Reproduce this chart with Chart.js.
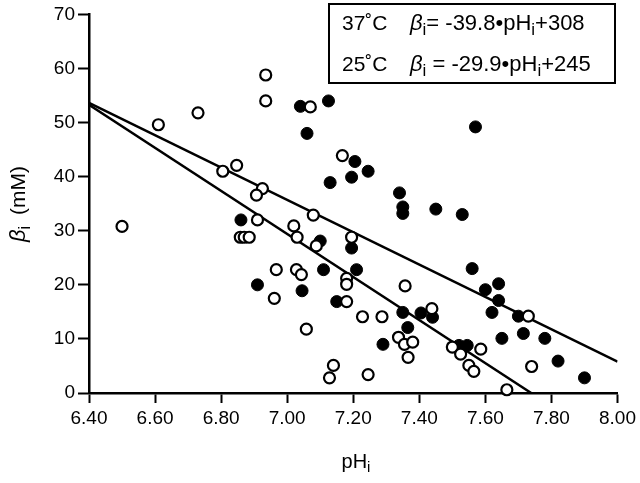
<!DOCTYPE html>
<html lang="en">
<head>
    <meta charset="UTF-8">
    <title>Buffering capacity vs pHi</title>
    <script src="https://cdn.jsdelivr.net/npm/chart.js"></script>
    <style>
        html, body { margin: 0; padding: 0; background: #fff; }
        canvas { display: block; }
    </style>
</head>
<body>
    <canvas id="betaChart" width="640" height="483"></canvas>

    <script>
        // 37 C (filled circles)
        const ph37 = [7.04, 7.125, 7.06, 7.205, 7.245, 7.195, 7.13, 7.34, 7.35, 7.35, 7.45, 7.53, 7.57,
            7.56, 7.60, 7.64, 7.64, 7.62, 7.70, 7.65, 7.715, 7.78, 7.82, 7.90, 7.195, 7.21, 7.35,
            7.405, 7.44, 7.365, 7.29, 7.52, 7.545, 6.86, 7.10, 7.11, 6.91, 7.045, 7.15];
        const beta37 = [53.0, 54.0, 48.0, 42.8, 41.0, 39.9, 38.9, 37.0, 34.4, 33.2, 34.0, 33.0, 49.2,
            23.0, 19.1, 20.2, 17.1, 14.9, 14.2, 10.1, 11.0, 10.1, 5.9, 2.8, 26.8, 22.8, 14.9,
            14.8, 14.0, 12.1, 9.0, 8.8, 8.8, 32.0, 28.1, 22.8, 20.0, 18.9, 16.9];

        // 25 C (open circles)
        const ph25 = [6.50, 6.61, 6.73, 6.935, 6.935, 6.805, 6.847, 6.925, 6.907, 6.91, 7.07, 7.167,
            6.858, 6.87, 6.885, 7.02, 7.03, 7.088, 7.079, 7.195, 6.967, 7.028, 7.043, 6.961, 7.18,
            7.18, 7.18, 7.228, 7.058, 7.14, 7.128, 7.245, 7.287, 7.357, 7.438, 7.337, 7.355, 7.38,
            7.366, 7.50, 7.525, 7.586, 7.55, 7.565, 7.73, 7.74, 7.665];
        const beta25 = [30.8, 49.6, 51.8, 58.8, 54.0, 41.0, 42.1, 37.8, 36.6, 32.0, 52.9, 43.9,
            28.8, 28.8, 28.8, 30.9, 28.8, 27.2, 32.9, 28.8, 22.8, 22.8, 21.9, 17.5, 21.2,
            20.1, 16.9, 14.1, 11.8, 5.1, 2.8, 3.4, 14.1, 19.8, 15.6, 10.3, 9.0, 9.4,
            6.6, 8.5, 7.2, 8.1, 5.1, 4.0, 14.2, 4.9, 0.6];

        // regression lines from the legend
        const fitLabels = ['37˚C', '25˚C'];
        const fitSlope = [-39.8, -29.9];
        const fitIntercept = [308, 245];
        const fitText = ['= -39.8', ' = -29.9'];
        const fitTail = ['+308', '+245'];

        const xMin = 6.4, xMax = 8.0, xStep = 0.2;
        const yMin = 0, yMax = 70, yStep = 10;

        const FONT = '"Liberation Sans", Arial, Helvetica, sans-serif';

        function toPoints(xs, ys) {
            return xs.map((x, i) => ({ x: x, y: ys[i] }));
        }

        function fitLine(k) {
            // from xMin until the line hits the bottom or the right edge
            let xEnd = Math.min(xMax, (yMin - fitIntercept[k]) / fitSlope[k]);
            return [xMin, xEnd].map(x => ({ x: x, y: fitSlope[k] * x + fitIntercept[k] }));
        }

        // draws the equation box and the axis titles
        const annotations = {
            id: 'annotations',
            afterDraw(chart) {
                const c = chart.ctx;
                c.save();
                c.fillStyle = '#000';
                c.strokeStyle = '#000';

                // legend box
                c.lineWidth = 2;
                c.strokeRect(329, 4, 286, 79);

                const rows = [30, 71];
                rows.forEach((yb, k) => {
                    c.textBaseline = 'alphabetic';
                    c.textAlign = 'left';
                    c.font = '21px ' + FONT;
                    c.fillText(fitLabels[k], 342, yb);
                    let x = 410;
                    c.font = 'italic 22px ' + FONT;
                    c.fillText('β', x, yb);
                    x += c.measureText('β').width;
                    c.font = '17px ' + FONT;
                    c.fillText('i', x, yb + 5);
                    x += c.measureText('i').width;
                    c.font = '22px ' + FONT;
                    const mid = fitText[k] + '•pH';
                    c.fillText(mid, x, yb);
                    x += c.measureText(mid).width;
                    c.font = '17px ' + FONT;
                    c.fillText('i', x, yb + 5);
                    x += c.measureText('i').width;
                    c.font = '22px ' + FONT;
                    c.fillText(fitTail[k], x, yb);
                });

                // x title: pHi
                c.font = '20px ' + FONT;
                let w1 = c.measureText('pH').width;
                c.font = '15px ' + FONT;
                let w2 = c.measureText('i').width;
                let x0 = 356 - (w1 + w2) / 2;
                c.font = '20px ' + FONT;
                c.fillText('pH', x0, 468);
                c.font = '15px ' + FONT;
                c.fillText('i', x0 + w1, 472);

                // y title: βi (mM), rotated
                c.translate(25, 204);
                c.rotate(-Math.PI / 2);
                c.font = 'italic 22px ' + FONT;
                c.fillText('β', -38, 0);
                const wb = c.measureText('β').width;
                c.font = '16px ' + FONT;
                c.fillText('i', -38 + wb, 5);
                c.font = '21px ' + FONT;
                c.fillText('(mM)', -11, 0);
                c.restore();
            }
        };

        const ctx = document.getElementById('betaChart').getContext('2d');
        const chart = new Chart(ctx, {
            type: 'scatter',
            data: {
                datasets: [
                    {
                        label: '25˚C',
                        data: toPoints(ph25, beta25),
                        pointRadius: 5.5,
                        pointBorderWidth: 2.2,
                        pointBackgroundColor: '#fff',
                        pointBorderColor: '#000',
                        clip: false,
                        order: 0
                    },
                    {
                        label: '37˚C',
                        data: toPoints(ph37, beta37),
                        pointRadius: 6,
                        pointBorderWidth: 1,
                        pointBackgroundColor: '#000',
                        pointBorderColor: '#000',
                        clip: false,
                        order: 1
                    },
                    {
                        type: 'line',
                        label: 'fit 37',
                        data: fitLine(0),
                        borderColor: '#000',
                        borderWidth: 2.5,
                        pointRadius: 0,
                        fill: false,
                        order: 2
                    },
                    {
                        type: 'line',
                        label: 'fit 25',
                        data: fitLine(1),
                        borderColor: '#000',
                        borderWidth: 2.5,
                        pointRadius: 0,
                        fill: false,
                        order: 2
                    }
                ]
            },
            options: {
                responsive: false,
                animation: false,
                events: [],
                layout: { padding: { left: 0, right: 21, top: 11, bottom: 0 } },
                plugins: {
                    legend: { display: false },
                    tooltip: { enabled: false }
                },
                scales: {
                    x: {
                        type: 'linear',
                        min: xMin,
                        max: xMax,
                        afterFit(scale) { scale.height = 90; },
                        afterBuildTicks(scale) {
                            const t = [];
                            for (let v = xMin; v <= xMax + 1e-9; v += xStep) t.push({ value: +v.toFixed(2) });
                            scale.ticks = t;
                        },
                        ticks: {
                            color: '#000',
                            padding: 4,
                            maxRotation: 0,
                            font: { family: FONT, size: 19 },
                            callback: v => v.toFixed(2)
                        },
                        grid: {
                            drawOnChartArea: false,
                            drawTicks: true,
                            tickLength: 10,
                            tickWidth: 2,
                            color: '#000'
                        },
                        border: { display: true, color: '#000', width: 2.5 }
                    },
                    y: {
                        min: yMin,
                        max: yMax,
                        afterFit(scale) { scale.width = 89; },
                        ticks: {
                            stepSize: yStep,
                            color: '#000',
                            padding: 3,
                            font: { family: FONT, size: 19 }
                        },
                        grid: {
                            drawOnChartArea: false,
                            drawTicks: true,
                            tickLength: 11,
                            tickWidth: 2,
                            color: '#000'
                        },
                        border: { display: true, color: '#000', width: 2.5 }
                    }
                }
            },
            plugins: [annotations]
        });
    </script>
</body>
</html>
